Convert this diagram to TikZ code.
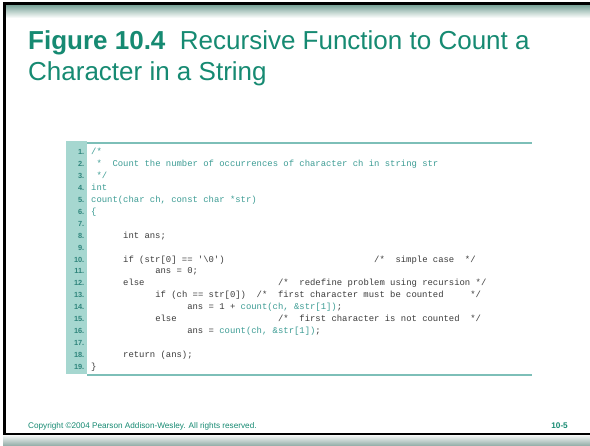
\documentclass[tikz,border=0pt]{standalone}
\usepackage{fontspec}
\setmainfont{Liberation Sans}
\newfontfamily\codefont{Liberation Mono}
\usetikzlibrary{positioning}
\definecolor{titleteal}{HTML}{168A72}
\definecolor{codeteal}{HTML}{3E9D95}
\definecolor{codegray}{HTML}{3C3C3C}
\definecolor{barteal}{HTML}{A6D7D0}
\definecolor{ruleteal}{HTML}{7DBFB8}
\definecolor{numteal}{HTML}{2F857C}
\definecolor{frametop}{HTML}{6F9C90}
\definecolor{framebot}{HTML}{8FAAA4}

\begin{document}
\begin{tikzpicture}[
  x=1pt, y=-1pt,
  code/.style={font=\codefont\fontsize{8.9}{10}\selectfont, text=codegray,
               anchor=base west, inner sep=0pt},
  headcode/.style={code, text=codeteal},
  lnum/.style={font=\fontsize{7.4}{8}\selectfont\bfseries, text=numteal,
               anchor=base east, inner sep=0pt},
  title/.style={font=\fontsize{26}{30}\selectfont, text=titleteal,
                anchor=base west, inner sep=0pt},
  foot/.style={font=\fontsize{8.2}{9}\selectfont, text=titleteal,
               anchor=base west, inner sep=0pt}
]

% Slide background and frame
\fill[white] (0,0) rectangle (590,446);
\useasboundingbox (0,0) rectangle (590,446);
\shade[top color=frametop, bottom color=white] (3,4) rectangle (590,18);
\shade[top color=white, bottom color=framebot] (3,434) rectangle (590,446);
\draw[black, line width=2.5pt] (4.5,434) -- (4.5,3.5) -- (590,3.5);
\draw[black, line width=1.8pt] (3,434) -- (590,434);

% Title
\node[title] (t1) at (28,50) {\textbf{Figure 10.4}\ \ Recursive Function to Count a};
\node[title] (t2) at (28,81) {Character in a String};

% Listing frame
\fill[barteal] (66,141) rectangle (87,374);
\draw[ruleteal, line width=1.2pt] (87,143) -- (532,143);
\draw[ruleteal, line width=1.2pt] (87,375) -- (532,375);

% Line numbers
\foreach \k in {1,...,19}
  \node[lnum] (n\k) at (84.5,{155+(\k-1)*11.9}) {\k.};

% Listing text
\node[headcode] (c1) at (91,155) {/*};
\node[headcode] (c2) at (91,166.9) {\ *\ \ Count the number of occurrences of character ch in string str};
\node[headcode] (c3) at (91,178.8) {\ */};
\node[headcode] (c4) at (91,190.7) {int};
\node[headcode] (c5) at (91,202.6) {count(char ch, const char *str)};
\node[headcode] (c6) at (91,214.5) {\{};
\node[code] (c8) at (123,238.3) {int ans;};
\node[code] (c10) at (123,262.1) {if (str[0] == '\textbackslash0')};
\node[code] (m10) at (374,262.1) {/*\ \ simple case\ \ */};
\node[code] (c11) at (155.1,274) {ans = 0;};
\node[code] (c12) at (123,285.9) {else};
\node[code] (m12) at (277.9,285.9) {/*\ \ redefine problem using recursion */};
\node[code] (c13) at (155.1,297.8) {if (ch == str[0])};
\node[code] (m13) at (256.5,297.8) {/*\ \ first character must be counted\ \ \ \ \ */};
\node[code] (c14) at (187.1,309.7) {ans = 1 + \textcolor{codeteal}{count(ch, \&str[1])};};
\node[code] (c15) at (155.1,321.6) {else};
\node[code] (m15) at (277.9,321.6) {/*\ \ first character is not counted\ \ */};
\node[code] (c16) at (187.1,333.5) {ans = \textcolor{codeteal}{count(ch, \&str[1])};};
\node[code] (c18) at (123,357.3) {return (ans);};
\node[code] (c19) at (91,369.2) {\}};

% Footer
\node[foot] (copy) at (28,429) {Copyright \textcopyright2004 Pearson Addison-Wesley. All rights reserved.};
\node[foot, anchor=base east, font=\fontsize{8.2}{9}\selectfont\bfseries] (page) at (568,429) {10-5};

\end{tikzpicture}
\end{document}
